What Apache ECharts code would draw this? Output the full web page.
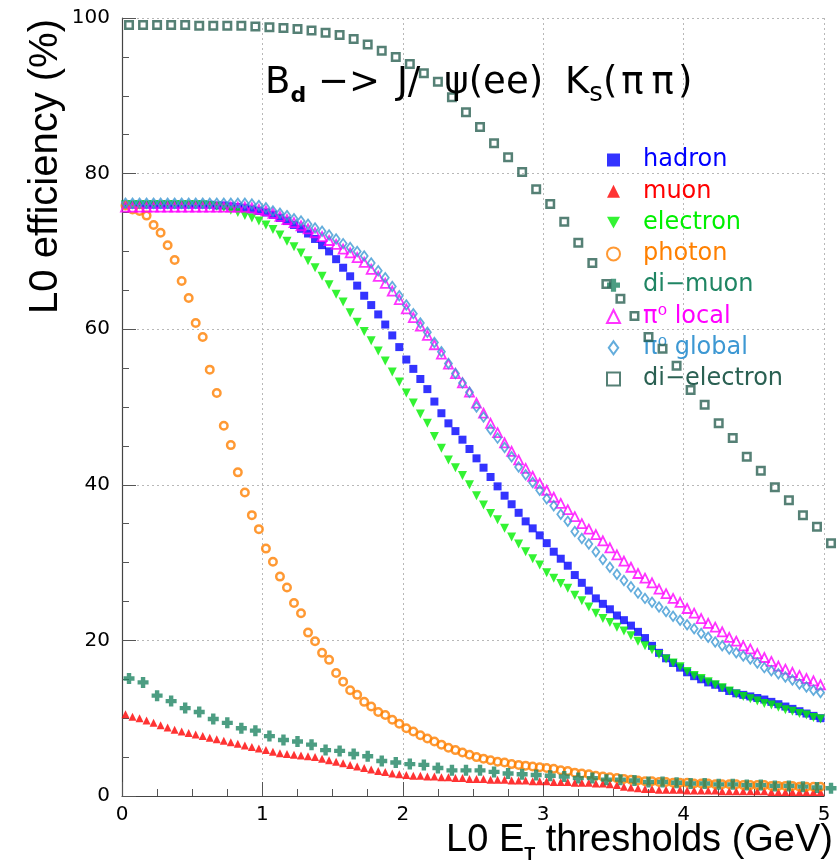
<!DOCTYPE html>
<html>
<head>
<meta charset="utf-8">
<script src="https://cdn.jsdelivr.net/npm/echarts@6/dist/echarts.min.js"></script>
<style>
  html, body { margin: 0; padding: 0; background: #fff; }
  #chart { width: 839px; height: 866px; }
</style>
</head>
<body>
<div id="chart"></div>
<script>
// Trigger thresholds (GeV): fine scan (0.05 GeV bins) and coarse scan (0.1 GeV bins)
const thresholdsFine = [
  0.025,0.075,0.125,0.175,0.225,0.275,0.325,0.375,0.425,0.475,
  0.525,0.575,0.625,0.675,0.725,0.775,0.825,0.875,0.925,0.975,
  1.025,1.075,1.125,1.175,1.225,1.275,1.325,1.375,1.425,1.475,
  1.525,1.575,1.625,1.675,1.725,1.775,1.825,1.875,1.925,1.975,
  2.025,2.075,2.125,2.175,2.225,2.275,2.325,2.375,2.425,2.475,
  2.525,2.575,2.625,2.675,2.725,2.775,2.825,2.875,2.925,2.975,
  3.025,3.075,3.125,3.175,3.225,3.275,3.325,3.375,3.425,3.475,
  3.525,3.575,3.625,3.675,3.725,3.775,3.825,3.875,3.925,3.975,
  4.025,4.075,4.125,4.175,4.225,4.275,4.325,4.375,4.425,4.475,
  4.525,4.575,4.625,4.675,4.725,4.775,4.825,4.875,4.925,4.975
];
const thresholdsCoarse = [
  0.05,0.15,0.25,0.35,0.45,0.55,0.65,0.75,0.85,0.95,
  1.05,1.15,1.25,1.35,1.45,1.55,1.65,1.75,1.85,1.95,
  2.05,2.15,2.25,2.35,2.45,2.55,2.65,2.75,2.85,2.95,
  3.05,3.15,3.25,3.35,3.45,3.55,3.65,3.75,3.85,3.95,
  4.05,4.15,4.25,4.35,4.45,4.55,4.65,4.75,4.85,4.95,
  5.05
];

// L0 efficiency (%) per trigger channel
const hadron = [
  76.0,76.0,76.0,76.0,76.0,76.0,76.0,76.0,76.0,76.0,
  76.0,76.0,76.0,75.9,75.9,75.8,75.7,75.6,75.4,75.2,
  75.0,74.7,74.3,73.9,73.4,72.9,72.3,71.6,70.8,70.0,
  69.0,67.9,66.8,65.6,64.3,63.1,61.9,60.6,59.2,57.7,
  56.1,54.9,53.6,52.3,50.7,49.2,47.9,46.9,45.8,44.6,
  43.4,42.2,41.0,39.8,38.6,37.5,36.4,35.3,34.4,33.5,
  32.5,31.4,30.5,29.6,28.4,27.4,26.4,25.4,24.7,24.0,
  23.2,22.6,21.9,21.1,20.3,19.3,18.4,17.7,17.1,16.5,
  15.9,15.4,15.0,14.6,14.3,13.9,13.5,13.2,13.0,12.8,
  12.6,12.4,12.1,11.8,11.5,11.2,10.9,10.6,10.3,10.0
];
const muon = [
  10.5,10.2,10.0,9.7,9.4,9.1,8.8,8.5,8.3,8.1,
  7.9,7.7,7.5,7.3,7.1,6.9,6.7,6.5,6.3,6.1,
  5.9,5.7,5.5,5.4,5.3,5.2,5.1,5.0,4.8,4.6,
  4.4,4.2,4.0,3.8,3.6,3.4,3.2,3.1,2.9,2.8,
  2.7,2.6,2.6,2.5,2.5,2.4,2.4,2.3,2.3,2.2,
  2.2,2.2,2.1,2.1,2.1,2.0,2.0,2.0,1.9,1.9,
  1.9,1.8,1.8,1.8,1.7,1.7,1.7,1.6,1.6,1.5,
  1.4,1.2,1.1,1.0,0.9,0.9,0.8,0.8,0.8,0.8,
  0.7,0.7,0.7,0.7,0.7,0.6,0.6,0.6,0.6,0.6,
  0.6,0.6,0.5,0.5,0.5,0.5,0.5,0.5,0.5,0.5
];
const electron = [
  76.0,76.0,76.0,76.0,76.0,76.0,76.0,76.0,76.0,76.0,
  76.0,76.0,75.9,75.8,75.6,75.3,75.0,74.6,74.3,73.9,
  73.4,72.8,72.1,71.3,70.6,69.8,68.8,67.9,66.8,65.7,
  64.5,63.5,62.1,60.9,59.7,58.5,57.2,55.9,54.5,53.2,
  51.8,50.5,49.1,47.9,46.2,44.7,43.2,42.2,41.2,40.0,
  38.6,37.4,36.3,35.5,34.4,33.3,32.4,31.4,30.5,29.7,
  28.7,28.0,27.3,26.7,25.8,25.1,24.3,23.5,22.8,22.3,
  21.7,21.2,20.6,19.9,19.3,18.8,18.2,17.6,17.1,16.6,
  16.0,15.5,15.1,14.7,14.3,13.9,13.5,13.1,12.8,12.5,
  12.2,11.9,11.7,11.4,11.1,10.9,10.6,10.4,10.1,9.9
];
const photon = [
  75.9,75.4,75.2,74.6,73.4,72.4,70.8,68.9,66.2,64.0,
  60.8,59.0,54.8,51.8,47.6,45.1,41.6,39.0,36.1,34.3,
  31.8,30.1,28.2,26.8,24.8,23.5,21.0,19.9,18.4,17.5,
  15.8,14.7,13.6,13.0,12.1,11.5,10.8,10.4,9.8,9.3,
  8.7,8.3,7.8,7.4,7.0,6.6,6.2,5.9,5.6,5.3,
  5.0,4.8,4.6,4.4,4.3,4.1,4.0,3.9,3.8,3.7,
  3.6,3.5,3.3,3.2,3.0,2.9,2.8,2.6,2.5,2.4,
  2.3,2.2,2.1,2.0,1.9,1.9,1.8,1.8,1.7,1.7,
  1.7,1.6,1.6,1.6,1.5,1.5,1.5,1.5,1.4,1.4,
  1.4,1.4,1.3,1.3,1.3,1.3,1.2,1.2,1.2,1.2
];
const diMuon = [
  15.1,14.6,12.9,12.2,11.3,10.8,9.9,9.4,8.7,8.4,
  7.7,7.2,7.0,6.6,5.9,5.8,5.4,5.1,4.5,4.3,
  4.1,4.0,3.6,3.3,3.3,3.3,3.1,2.9,2.8,2.7,
  2.6,2.5,2.3,2.3,2.1,2.1,2.0,1.8,1.8,1.7,
  1.6,1.6,1.5,1.5,1.4,1.4,1.3,1.3,1.2,1.1,
  1.0
];
const pi0Local = [
  75.7,75.7,75.7,75.7,75.7,75.7,75.7,75.7,75.7,75.7,
  75.7,75.7,75.7,75.7,75.7,75.7,75.7,75.7,75.6,75.4,
  75.2,74.9,74.5,74.1,73.7,73.3,72.9,72.4,71.9,71.4,
  70.9,70.3,69.8,69.2,68.6,67.7,66.8,65.9,64.9,63.8,
  62.6,61.5,60.4,59.2,58.0,56.8,55.5,54.3,53.1,51.9,
  50.5,49.2,47.9,46.7,45.4,44.3,43.2,42.1,41.1,40.2,
  39.3,38.4,37.6,36.8,35.9,35.0,34.3,33.6,32.8,31.9,
  31.0,30.2,29.4,28.6,28.0,27.4,26.6,26.0,25.4,24.9,
  24.1,23.5,22.8,22.2,21.7,21.1,20.4,19.9,19.3,18.9,
  18.3,17.8,17.3,16.7,16.3,15.9,15.5,15.1,14.8,14.3
];
const pi0Global = [
  76.2,76.2,76.2,76.2,76.2,76.2,76.2,76.2,76.2,76.2,
  76.2,76.2,76.2,76.2,76.2,76.2,76.2,76.2,76.1,75.9,
  75.6,75.2,74.9,74.6,74.2,73.9,73.5,73.0,72.6,72.1,
  71.6,71.0,70.5,70.0,69.4,68.5,67.5,66.6,65.5,64.3,
  63.1,62.0,60.8,59.6,58.3,57.1,55.6,54.3,53.1,51.9,
  50.0,48.7,47.1,46.0,44.8,43.6,42.3,41.3,40.3,39.3,
  38.2,37.3,36.2,35.3,34.0,33.1,32.4,31.4,30.4,29.4,
  28.5,27.7,26.9,26.1,25.4,24.9,24.3,23.7,23.1,22.6,
  22.0,21.5,20.9,20.4,19.8,19.3,18.9,18.4,18.0,17.6,
  17.1,16.5,16.1,15.7,15.3,14.9,14.4,14.0,13.6,13.3
];
const diElectron = [
  99.1,99.1,99.1,99.1,99.1,99.0,99.0,99.0,99.0,98.9,
  98.8,98.7,98.6,98.4,98.1,97.8,97.3,96.6,95.8,95.0,
  94.1,92.9,91.8,89.8,87.9,86.0,83.9,82.1,80.2,78.0,
  76.1,73.8,71.1,68.5,65.8,63.9,61.7,59.0,57.5,55.3,
  52.2,50.3,47.9,46.0,43.6,41.8,39.7,38.0,36.1,34.6,
  32.5
];

const xTicks = [0, 1, 2, 3, 4, 5];
const yTicks = [0, 20, 40, 60, 80, 100];

const seriesNames = ['hadron', 'muon', 'electron', 'photon', 'di\u2212muon', '\u03c0\u2070 local', '\u03c0\u2070 global', 'di\u2212electron'];
const seriesColors = ['#0000ff', '#ff0000', '#00f000', '#ff8000', '#1f8563', '#ff00ff', '#3d98d3', '#2a6052'];

const SYM_DOWN_TRI = 'path://M0,0L10,0L5,9Z';
const SYM_CROSS = 'path://M3,0H7V3H10V7H7V10H3V7H0V3H3Z';
const SYM_DIAMOND = 'path://M4,0L8,5.5L4,11L0,5.5Z';

function pairs(xs, ys) {
  return ys.map((v, i) => [xs[i], v]);
}

const FONT_TICK = 'DejaVu Sans';
const FONT_TITLE = 'Liberation Sans';

function scatter(idx, xs, ys, symbol, size, hollow, border) {
  const c = seriesColors[idx];
  return {
    name: seriesNames[idx],
    type: 'scatter',
    data: pairs(xs, ys),
    symbol: symbol,
    symbolSize: size,
    clip: false,
    silent: true,
    itemStyle: hollow
      ? { color: 'rgba(0,0,0,0)', borderColor: c, borderWidth: border }
      : { color: c, borderWidth: 0 }
  };
}

const chart = echarts.init(document.getElementById('chart'), null, { renderer: 'canvas' });

const titleMain = { fontFamily: 'DejaVu Sans', fontSize: 37, fontWeight: 'normal', lineHeight: 42, color: '#000', verticalAlign: 'top' };

chart.setOption({
  animation: false,
  backgroundColor: '#ffffff',
  title: {
    text: '{m|B}{sd|d}{m| \u2212>}{j|J/}{psi|\u03c8(ee)}{k|K}{ss|s}{m|(}{pp|\u03c0}{pp|\u03c0}{m|)}',
    left: 265,
    top: 65,
    padding: 0,
    textStyle: {
      fontWeight: 'normal',
      rich: {
        m: titleMain,
        j: Object.assign({}, titleMain, { padding: [0, 0, 0, 17] }),
        psi: Object.assign({}, titleMain, { padding: [0, 0, 0, 24] }),
        k: Object.assign({}, titleMain, { padding: [0, 0, 0, 22] }),
        pp: Object.assign({}, titleMain, { padding: [0, 4, 0, 4] }),
        sd: { fontFamily: 'DejaVu Sans', fontSize: 22, fontWeight: 'bold', lineHeight: 22, color: '#000', verticalAlign: 'bottom' },
        ss: { fontFamily: 'DejaVu Sans', fontSize: 26, fontWeight: 'normal', lineHeight: 22, color: '#000', verticalAlign: 'bottom' }
      }
    }
  },
  legend: {
    orient: 'vertical',
    left: 606,
    top: 148,
    padding: 0,
    z: 1,
    itemWidth: 13,
    itemHeight: 13,
    itemGap: 7.3,
    selectedMode: false,
    data: seriesNames.map((n, i) => ({
      name: n,
      textStyle: { color: seriesColors[i] }
    })),
    textStyle: {
      fontFamily: FONT_TICK,
      fontSize: 24,
      lineHeight: 24,
      padding: [0, 0, 0, 18]
    }
  },
  grid: { left: 122, right: 15, top: 18, bottom: 70, containLabel: false },
  xAxis: {
    type: 'value',
    min: xTicks[0],
    max: xTicks[xTicks.length - 1],
    interval: xTicks[1] - xTicks[0],
    axisLine: { show: true, onZero: false, lineStyle: { color: '#444', width: 1.2 } },
    axisTick: { show: true, inside: true, length: 14, lineStyle: { color: '#555' } },
    minorTick: { show: true, splitNumber: 4, length: 7, lineStyle: { color: '#555' } },
    splitLine: { show: true, lineStyle: { color: '#b8b8b8', width: 1, type: [2, 3] } },
    axisLabel: { color: '#000', fontFamily: FONT_TICK, fontSize: 20, margin: 9 }
  },
  yAxis: {
    type: 'value',
    min: yTicks[0],
    max: yTicks[yTicks.length - 1],
    interval: yTicks[1] - yTicks[0],
    axisLine: { show: true, onZero: false, lineStyle: { color: '#444', width: 1.2 } },
    axisTick: { show: true, inside: true, length: 14, lineStyle: { color: '#555' } },
    minorTick: { show: true, splitNumber: 4, length: 7, lineStyle: { color: '#555' } },
    splitLine: { show: true, lineStyle: { color: '#b8b8b8', width: 1, type: [2, 3] } },
    axisLabel: { color: '#000', fontFamily: FONT_TICK, fontSize: 20, margin: 12 }
  },
  graphic: [
    {
      type: 'text',
      right: 6,
      bottom: 2,
      style: {
        text: '{m|L0 E}{sub|T}{m| thresholds (GeV)}',
        rich: {
          m: { fontFamily: FONT_TITLE, fontSize: 38, lineHeight: 42, fill: '#000', verticalAlign: 'top' },
          sub: { fontFamily: FONT_TITLE, fontSize: 18, fontWeight: 'bold', lineHeight: 20, fill: '#000', verticalAlign: 'bottom' }
        }
      }
    },
    {
      type: 'text',
      x: 46,
      y: 19,
      rotation: Math.PI / 2,
      style: {
        text: 'L0 efficiency (%)',
        font: '40px "Liberation Sans"',
        fill: '#000',
        align: 'right',
        verticalAlign: 'middle'
      }
    }
  ],
  series: [
    scatter(0, thresholdsFine, hadron, 'rect', 8, false),
    scatter(1, thresholdsFine, muon, 'triangle', 8, false),
    scatter(2, thresholdsFine, electron, SYM_DOWN_TRI, 9, false),
    scatter(3, thresholdsFine, photon, 'circle', 7.5, true, 2.5),
    scatter(4, thresholdsCoarse, diMuon, SYM_CROSS, 11, false),
    scatter(5, thresholdsFine, pi0Local, 'triangle', 9, true, 1.8),
    scatter(6, thresholdsFine, pi0Global, SYM_DIAMOND, [7, 9.5], true, 1.8),
    scatter(7, thresholdsCoarse, diElectron, 'rect', 7.5, true, 2.5)
  ]
});
</script>
</body>
</html>
